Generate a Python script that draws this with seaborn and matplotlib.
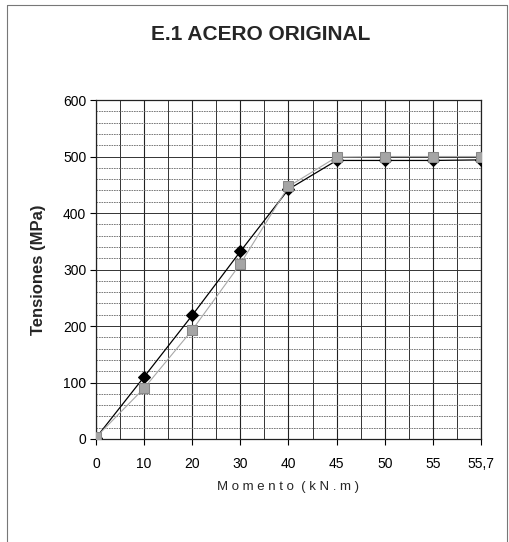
import numpy as np
import pandas as pd
import matplotlib
matplotlib.use("Agg")
import matplotlib.pyplot as plt
import seaborn as sns
from matplotlib.lines import Line2D

categories = ["0", "10", "20", "30", "40", "45", "50", "55", "55,7"]
serie_negra = [2, 110, 219, 332, 442, 493, 493, 493, 494]
serie_gris = [3, 90, 193, 310, 447, 499, 500, 500, 500]
y_ticks = [0, 100, 200, 300, 400, 500, 600]

sns.set_theme(style="white")
plt.rcParams['font.family'] = ['Liberation Sans', 'DejaVu Sans']

fig = plt.figure(figsize=(5.10, 5.42), dpi=100)
ax = fig.add_axes([96/510, 1-439/542, (481-96)/510, (439-100)/542])

df_n = pd.DataFrame({"Momento": categories, "Tension": serie_negra})
df_g = pd.DataFrame({"Momento": categories, "Tension": serie_gris})

sns.lineplot(data=df_n, x="Momento", y="Tension", ax=ax, color="black",
             linewidth=0.9, marker="D", markersize=6.5, markeredgecolor="black",
             markerfacecolor="black", sort=False, zorder=3)
sns.lineplot(data=df_g, x="Momento", y="Tension", ax=ax, color="#a8a8a8",
             linewidth=0.8, marker="s", markersize=6.5, markeredgecolor="#888888",
             markerfacecolor="#a5a5a5", sort=False, zorder=4)

ax.set_xlim(0, len(categories) - 1)
ax.set_ylim(0, 600)
ax.set_yticks(y_ticks)
ax.set_yticks(np.arange(0, 601, 20), minor=True)
ax.set_xticks(np.arange(0.5, len(categories) - 1, 1), minor=True)

ax.grid(True, which="major", axis="x", color="#222222", linewidth=0.8)
ax.grid(True, which="minor", axis="x", color="#333333", linewidth=0.7)
ax.grid(True, which="major", axis="y", color="#333333", linewidth=0.7)
ax.grid(True, which="minor", axis="y", color="#666666", linewidth=0.6, linestyle=(0, (2, 1)))
ax.set_axisbelow(True)

for s in ax.spines.values():
    s.set_color("#222222")
    s.set_linewidth(0.9)

ax.tick_params(axis="both", which="major", labelsize=10, colors="black",
               length=4, width=0.8, direction="out", bottom=True, left=True, pad=3)
ax.tick_params(axis="both", which="minor", length=0)
ax.tick_params(axis="x", pad=9)

ax.set_xlabel("M o m e n t o  ( k N . m )", fontsize=9.5, labelpad=7)
ax.set_ylabel("Tensiones (MPa)", fontsize=12, fontweight="bold", labelpad=12)

fig.text(261/510, 1-35/542, "E.1 ACERO ORIGINAL", ha="center", va="center",
         fontsize=15, fontweight="bold")

# outer frame
for (x0, y0, x1, y1) in [(7, 5, 507, 5), (7, 5, 7, 542), (507, 5, 507, 542)]:
    fig.add_artist(Line2D([x0/510, x1/510], [1-y0/542, 1-y1/542],
                          transform=fig.transFigure, color="#777777", linewidth=0.8))

fig.savefig("out.png", dpi=100)
